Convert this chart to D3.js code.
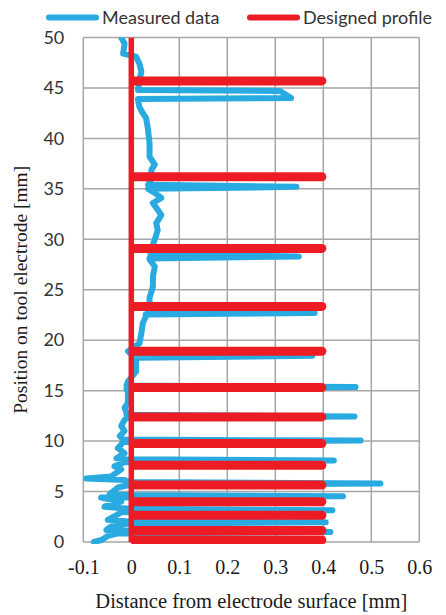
<!DOCTYPE html>
<html>
<head>
<meta charset="utf-8">
<script src="https://cdn.jsdelivr.net/npm/d3@7"></script>
<style>
  body { margin: 0; background: #fff; }
  svg { display: block; }
</style>
</head>
<body>
<svg width="446" height="615"></svg>
<script>
// measured profile: [distance mm, position mm] bottom to top
var measured = [
  [-0.078, 0.0], [-0.062, 0.2], [-0.049, 0.6], [-0.028, 0.85], [-0.004, 0.85],
  [0.415, 1.0], [-0.004, 1.15], [-0.052, 1.2], [-0.042, 1.55], [-0.01, 1.8],
  [0.405, 1.96], [-0.01, 2.05], [-0.049, 2.2], [-0.035, 2.55], [-0.021, 2.95],
  [0.419, 3.15], [-0.005, 3.3], [-0.056, 3.5], [-0.042, 3.7], [-0.021, 4.0],
  [-0.063, 4.4], [-0.005, 4.4], [0.441, 4.53], [-0.005, 4.65], [-0.045, 4.75],
  [-0.028, 5.4], [-0.005, 5.65], [0.519, 5.8], [-0.005, 5.95], [-0.014, 6.15],
  [-0.094, 6.3], [-0.042, 6.5], [-0.021, 7.2], [-0.035, 7.5], [-0.014, 7.9],
  [0.422, 8.07], [-0.014, 8.2], [-0.031, 8.3], [-0.014, 8.8], [-0.028, 9.3],
  [-0.017, 9.9], [0.478, 10.05], [-0.017, 10.15], [-0.024, 10.5], [-0.014, 11.0],
  [-0.021, 11.5], [-0.014, 12.1], [-0.01, 12.3], [0.465, 12.45], [-0.01, 12.6],
  [-0.01, 12.8], [-0.014, 13.3], [-0.007, 13.8], [-0.007, 14.8], [-0.01, 15.2],
  [0.467, 15.35], [-0.01, 15.5], [-0.007, 15.9], [0.01, 16.9], [0.01, 17.7],
  [0.01, 18.25], [0.377, 18.45], [0.0, 18.6], [-0.007, 18.9], [0.003, 19.2],
  [0.017, 19.7], [0.021, 20.7], [0.024, 21.7], [0.031, 22.4], [0.03, 22.55],
  [0.382, 22.7], [0.035, 22.85], [0.038, 23.2], [0.038, 24.2], [0.045, 25.3],
  [0.045, 26.3], [0.049, 27.3], [0.038, 28.0], [0.038, 28.1], [0.349, 28.3],
  [0.04, 28.5], [0.046, 29.6], [0.049, 30.0], [0.055, 30.9], [0.052, 31.6],
  [0.0625, 32.4], [0.045, 33.6], [0.0625, 34.1], [0.049, 34.6], [0.035, 35.0],
  [0.344, 35.2], [0.035, 35.4], [0.04, 35.8], [0.042, 36.9], [0.049, 37.4],
  [0.038, 38.2], [0.038, 39.5], [0.035, 40.8], [0.031, 42.0], [0.024, 42.5],
  [0.017, 43.1], [0.014, 43.8], [0.014, 43.9], [0.333, 44.0], [0.31, 44.7],
  [0.014, 44.8], [0.017, 45.8], [0.021, 46.6], [0.017, 47.4], [0.01, 48.1],
  [-0.017, 48.4], [-0.014, 49.4], [-0.021, 50.0]
];

// designed profile: straight wall at 0 with teeth of 0.4 mm at these positions
var designedWall = [[0, 0], [0, 50]];
var designedTeeth = [0.2, 1.15, 2.65, 4.0, 5.65, 7.6, 9.75, 12.4, 15.3, 18.9, 23.35, 29.1, 36.2, 45.7];
var designedDepth = 0.4;

var xTicks = [-0.1, 0, 0.1, 0.2, 0.3, 0.4, 0.5, 0.6];
var yTicks = [0, 5, 10, 15, 20, 25, 30, 35, 40, 45, 50];
var seriesNames = ["Measured data", "Designed profile"];
var seriesColors = ["#29abe2", "#ed1c24"];

var serif = "'Liberation Serif', 'Times New Roman', serif",
    sans = "Lato, 'Open Sans', sans-serif";

var svg = d3.select("svg"),
    margin = {top: 37.5, right: 26.7, bottom: 73, left: 83.3},
    width = +svg.attr("width") - margin.left - margin.right,
    height = +svg.attr("height") - margin.top - margin.bottom,
    g = svg.append("g").attr("transform", "translate(" + margin.left + "," + margin.top + ")");

var x = d3.scaleLinear().domain([-0.1, 0.6]).range([0, width]);
var y = d3.scaleLinear().domain([0, 50]).range([height, 0]);

// grid
g.append("g")
    .selectAll("line")
    .data(xTicks)
    .enter().append("line")
    .attr("x1", function(d) { return x(d); })
    .attr("x2", function(d) { return x(d); })
    .attr("y1", 0)
    .attr("y2", height)
    .attr("stroke", "#a6a6a6")
    .attr("stroke-width", 1.5);

g.append("g")
    .selectAll("line")
    .data(yTicks)
    .enter().append("line")
    .attr("x1", 0)
    .attr("x2", width)
    .attr("y1", function(d) { return y(d); })
    .attr("y2", function(d) { return y(d); })
    .attr("stroke", "#a6a6a6")
    .attr("stroke-width", 1.5);

// axes (labels only)
var yAxis = g.append("g")
    .call(d3.axisLeft(y).tickValues(yTicks).tickSize(0).tickPadding(19));
yAxis.select(".domain").remove();
yAxis.selectAll("text")
    .attr("fill", "#333")
    .style("font-family", sans)
    .style("font-size", "18px");

var xAxis = g.append("g")
    .attr("transform", "translate(0," + height + ")")
    .call(d3.axisBottom(x).tickValues(xTicks).tickSize(0).tickPadding(18)
        .tickFormat(function(d) { return String(+d.toFixed(1)); }));
xAxis.select(".domain").remove();
xAxis.selectAll("text")
    .attr("fill", "#1a1a1a")
    .style("font-family", serif)
    .style("font-size", "20px");

// clip series to plot
svg.append("clipPath").attr("id", "plotclip")
    .append("rect")
    .attr("x", -3).attr("y", 0)
    .attr("width", width + 6).attr("height", height + 2);

var line = d3.line()
    .x(function(d) { return x(d[0]); })
    .y(function(d) { return y(d[1]); });

var plot = g.append("g").attr("clip-path", "url(#plotclip)");

plot.append("path")
    .datum(measured)
    .attr("fill", "none")
    .attr("stroke", seriesColors[0])
    .attr("stroke-width", 6)
    .attr("stroke-linejoin", "round")
    .attr("stroke-linecap", "round")
    .attr("d", line);

plot.append("path")
    .datum(designedWall)
    .attr("fill", "none")
    .attr("stroke", seriesColors[1])
    .attr("stroke-width", 5.5)
    .attr("d", line);

plot.selectAll(".tooth")
    .data(designedTeeth)
    .enter().append("path")
    .attr("class", "tooth")
    .attr("fill", "none")
    .attr("stroke", seriesColors[1])
    .attr("stroke-width", 9)
    .attr("stroke-linecap", "round")
    .attr("d", function(d) { return line([[0.006, d], [designedDepth - 0.003, d]]); });

// legend
var legendX = [49, 250];
var legend = svg.append("g")
    .selectAll("g")
    .data(seriesNames)
    .enter().append("g")
    .attr("transform", function(d, i) { return "translate(" + legendX[i] + ",17.5)"; });

legend.append("line")
    .attr("x1", 0).attr("x2", 47)
    .attr("stroke", function(d, i) { return seriesColors[i]; })
    .attr("stroke-width", 6)
    .attr("stroke-linecap", "round");

legend.append("text")
    .attr("x", 53)
    .attr("dy", "0.35em")
    .attr("fill", "#333")
    .style("font-family", sans)
    .style("font-size", "18px")
    .text(function(d) { return d; });

// axis titles
svg.append("text")
    .attr("x", margin.left + width / 2)
    .attr("y", 608)
    .attr("text-anchor", "middle")
    .attr("fill", "#1a1a1a")
    .style("font-family", serif)
    .style("font-size", "20.5px")
    .text("Distance from electrode surface [mm]");

svg.append("text")
    .attr("transform", "translate(27," + (margin.top + height / 2) + ") rotate(-90)")
    .attr("text-anchor", "middle")
    .attr("fill", "#1a1a1a")
    .style("font-family", serif)
    .style("font-size", "19.5px")
    .text("Position on tool electrode [mm]");
</script>
</body>
</html>
